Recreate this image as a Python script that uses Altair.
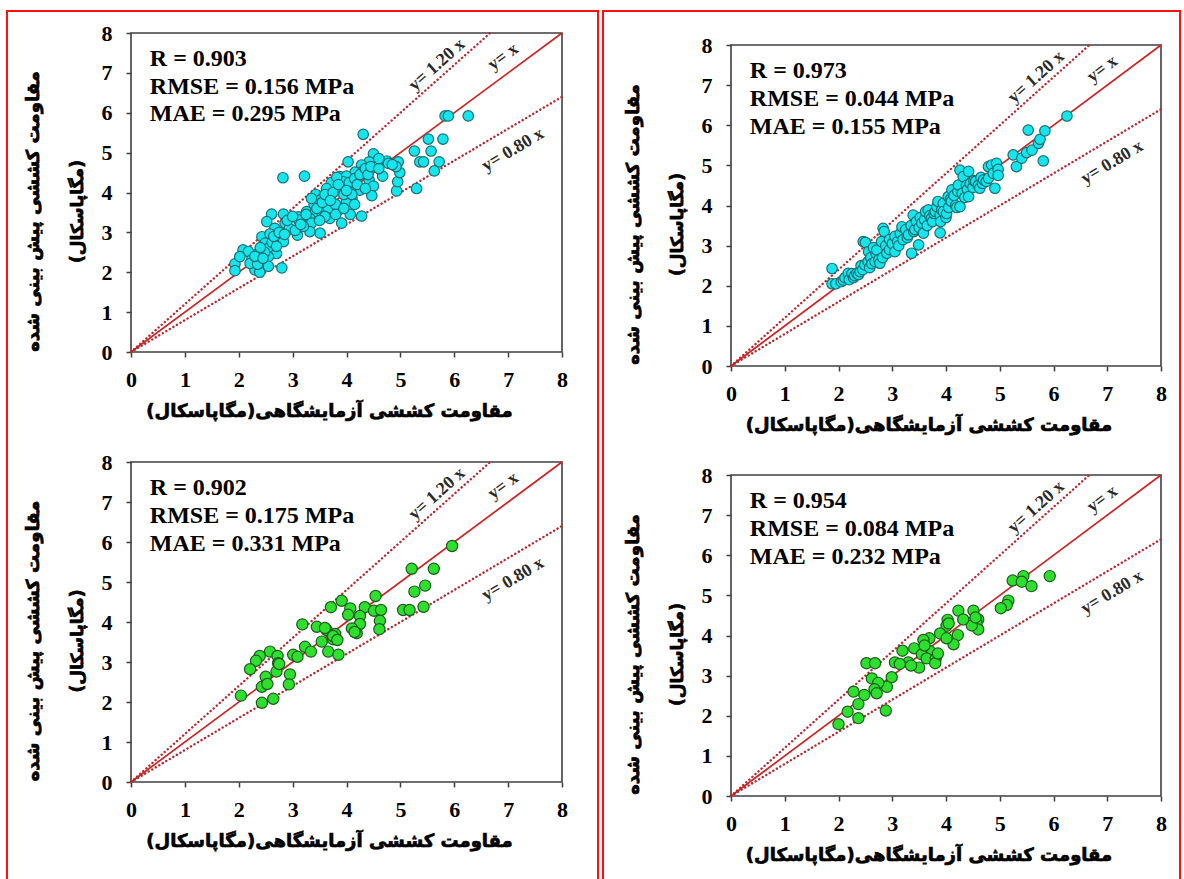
import math
import altair as alt
import pandas as pd

W, H = 1184, 879

# ---------------------------------------------------------------- data
# training set, model A (top left)
tl_x = [5.83, 5.89, 6.26, 4.31, 5.52, 5.79, 5.26, 5.57, 5.36, 5.43, 5.72, 5.63, 5.30, 4.93, 4.95,
        4.99, 4.75, 4.96, 4.78, 4.50, 4.42, 4.03, 4.28, 2.82, 3.22, 4.16, 4.31, 4.67, 4.92, 4.42,
        4.50, 3.88, 4.00, 3.94, 3.72, 3.82, 3.63, 3.90, 4.03, 4.25, 3.43, 3.53, 3.69, 4.47, 4.10,
        4.00, 4.28, 3.91, 4.07, 2.61, 2.83, 3.11, 3.26, 3.42, 3.32, 3.54, 3.69, 3.66, 3.85, 2.52,
        2.86, 3.11, 2.67, 2.94, 3.35, 3.51, 3.09, 3.32, 2.43, 2.58, 2.83, 2.49, 2.08, 2.18, 2.35,
        2.55, 2.70, 1.93, 2.02, 2.24, 2.43, 2.55, 1.93, 2.30, 2.39, 2.80, 2.21, 2.35, 2.48, 2.62,
        2.40, 2.30, 2.65, 2.75, 2.90, 3.00, 3.05, 3.20, 3.25, 3.40, 3.45, 3.55, 3.60, 3.75, 3.80,
        3.85, 3.95, 4.05, 4.15, 4.20, 4.25, 4.35, 4.40, 4.45, 4.60, 3.70, 3.60, 3.80, 3.95, 4.10,
        2.55, 2.45, 2.70, 2.85, 3.15, 3.35, 3.50, 4.00, 4.15, 4.35, 4.60, 4.85]
tl_y = [5.92, 5.92, 5.92, 5.46, 5.34, 5.34, 5.04, 5.04, 4.77, 4.77, 4.77, 4.54, 4.10, 4.04, 4.27,
        4.50, 4.79, 4.77, 4.73, 4.97, 4.77, 4.77, 4.69, 4.37, 4.41, 4.51, 4.54, 4.41, 4.65, 4.31,
        4.16, 4.40, 4.41, 4.27, 4.25, 4.38, 4.10, 4.10, 4.08, 4.06, 3.95, 3.83, 3.90, 3.92, 3.85,
        3.77, 3.41, 3.23, 3.45, 3.46, 3.46, 3.39, 3.52, 3.52, 3.35, 3.52, 3.35, 3.60, 3.56, 3.27,
        3.23, 3.31, 3.10, 3.10, 3.23, 2.98, 2.93, 3.02, 2.89, 2.96, 2.77, 2.73, 2.56, 2.52, 2.46,
        2.60, 2.47, 2.21, 2.39, 2.31, 2.27, 2.39, 2.04, 2.06, 2.00, 2.11, 2.22, 2.20, 2.50, 2.75,
        2.62, 2.40, 2.90, 3.00, 3.30, 3.40, 3.05, 3.15, 3.45, 3.70, 3.60, 3.75, 3.95, 4.00, 3.70,
        4.20, 3.95, 4.25, 4.35, 4.20, 4.45, 4.60, 4.45, 4.65, 4.60, 3.80, 3.40, 3.45, 3.60, 3.95,
        2.15, 2.35, 2.65, 2.95, 3.20, 3.85, 3.30, 4.05, 3.70, 4.10, 4.85, 4.70]

# training set, model B (top right)
tr_x = [1.88, 1.88, 1.95, 2.05, 2.09, 2.12, 2.18, 2.20, 2.25, 2.28, 2.30, 2.34, 2.37, 2.40, 2.42,
        2.45, 2.49, 2.46, 2.50, 2.55, 2.56, 2.58, 2.60, 2.62, 2.65, 2.68, 2.70, 2.71, 2.75, 2.77,
        2.80, 2.82, 2.83, 2.85, 2.88, 2.90, 2.95, 2.95, 3.00, 3.05, 3.05, 3.10, 3.12, 3.15, 3.18,
        3.20, 3.25, 3.28, 3.30, 3.35, 3.36, 3.39, 3.40, 3.42, 3.45, 3.49, 3.50, 3.52, 3.55, 3.58,
        3.60, 3.62, 3.65, 3.67, 3.70, 3.73, 3.75, 3.78, 3.80, 3.83, 3.85, 3.89, 3.89, 3.90, 3.92,
        3.95, 3.95, 4.00, 4.01, 4.04, 4.05, 4.08, 4.10, 4.11, 4.15, 4.18, 4.20, 4.22, 4.23, 4.26,
        4.26, 4.30, 4.32, 4.35, 4.38, 4.40, 4.42, 4.42, 4.45, 4.50, 4.52, 4.55, 4.60, 4.63, 4.65,
        4.68, 4.70, 4.75, 4.79, 4.79, 4.85, 4.88, 4.91, 4.94, 4.97, 4.97, 5.25, 5.31, 5.41, 5.50,
        5.53, 5.60, 5.72, 5.75, 5.81, 5.84, 6.25]
tr_y = [2.43, 2.05, 2.05, 2.10, 2.14, 2.20, 2.31, 2.15, 2.30, 2.20, 2.25, 2.31, 2.28, 2.35, 2.50,
        2.40, 2.52, 3.10, 3.08, 2.60, 2.85, 2.45, 2.70, 2.55, 2.95, 2.60, 2.80, 2.89, 2.65, 2.56,
        3.10, 2.70, 3.43, 3.35, 3.00, 2.81, 2.90, 3.15, 3.05, 3.23, 2.85, 3.10, 3.00, 3.30, 3.47,
        3.15, 3.40, 3.20, 3.27, 3.50, 2.81, 3.76, 3.35, 3.40, 3.60, 3.02, 3.45, 3.70, 3.56, 3.31,
        3.65, 3.85, 3.50, 3.89, 3.75, 3.68, 3.60, 3.80, 3.85, 3.97, 4.10, 3.76, 3.32, 3.60, 3.90,
        4.05, 3.85, 3.70, 3.80, 4.22, 3.95, 4.15, 4.10, 4.39, 4.25, 4.00, 3.95, 4.35, 4.51, 4.88,
        3.97, 4.30, 4.72, 4.20, 4.50, 4.40, 4.85, 4.22, 4.55, 4.45, 4.62, 4.60, 4.50, 4.43, 4.70,
        4.55, 4.64, 4.60, 4.97, 4.68, 5.01, 4.80, 4.43, 5.05, 4.90, 4.75, 5.26, 4.97, 5.18, 5.32,
        5.88, 5.38, 5.55, 5.65, 5.11, 5.86, 6.23]

# test set, model A (bottom left)
bl_x = [5.96, 5.21, 5.62, 5.46, 5.26, 5.43, 5.05, 5.17, 4.54, 4.34, 4.51, 4.64, 4.62, 4.61, 4.07,
        3.91, 3.71, 4.25, 4.25, 4.03, 4.10, 4.19, 3.18, 3.45, 3.63, 3.79, 3.75, 3.54, 3.23, 3.34,
        3.66, 3.85, 3.01, 3.09, 2.58, 2.72, 2.39, 2.32, 2.73, 2.21, 2.70, 2.95, 2.50, 2.43, 2.53,
        2.93, 2.04, 2.64, 2.43, 3.75, 3.60, 4.15, 2.75, 3.83]
bl_y = [5.90, 5.33, 5.33, 4.91, 4.76, 4.38, 4.30, 4.30, 4.65, 4.37, 4.28, 4.30, 4.03, 3.82, 4.34,
        4.53, 4.37, 4.15, 3.95, 4.18, 3.84, 3.72, 3.94, 3.88, 3.80, 3.70, 3.57, 3.51, 3.38, 3.26,
        3.26, 3.18, 3.18, 3.13, 3.26, 3.15, 3.15, 3.03, 2.97, 2.82, 2.76, 2.69, 2.63, 2.38, 2.45,
        2.44, 2.16, 2.08, 1.98, 3.65, 3.85, 3.75, 2.95, 3.55]

# test set, model B (bottom right)
br_x = [5.93, 5.44, 5.24, 5.41, 5.59, 5.16, 5.13, 5.02, 4.51, 4.23, 4.60, 4.57, 4.60, 4.48, 4.32,
        4.03, 4.01, 3.89, 4.22, 4.14, 4.01, 3.69, 3.58, 3.41, 3.70, 3.55, 3.64, 3.81, 3.80, 3.50,
        3.19, 3.05, 3.30, 3.14, 2.52, 2.68, 2.99, 2.90, 2.62, 2.74, 2.67, 2.71, 2.48, 2.28, 2.37,
        2.17, 2.88, 2.37, 2.00, 3.85, 3.60, 4.05, 4.55, 3.35]
br_y = [5.48, 5.48, 5.37, 5.34, 5.23, 4.87, 4.76, 4.68, 4.62, 4.62, 4.40, 4.30, 4.15, 4.25, 4.40,
        4.39, 4.24, 4.05, 4.01, 3.78, 3.93, 3.93, 3.89, 3.68, 3.61, 3.53, 3.43, 3.43, 3.31, 3.20,
        3.62, 3.33, 3.33, 3.29, 3.31, 3.31, 2.96, 2.72, 2.93, 2.82, 2.66, 2.56, 2.52, 2.60, 2.29,
        2.10, 2.13, 1.94, 1.79, 3.55, 3.75, 4.30, 4.45, 3.25]

stats_tl = ["R = 0.903", "RMSE = 0.156 MPa", "MAE = 0.295 MPa"]
stats_tr = ["R = 0.973", "RMSE = 0.044 MPa", "MAE = 0.155 MPa"]
stats_bl = ["R = 0.902", "RMSE = 0.175 MPa", "MAE = 0.331 MPa"]
stats_br = ["R = 0.954", "RMSE = 0.084 MPa", "MAE = 0.232 MPa"]
stats_x = 0.35
stats_y = [7.36, 6.65, 5.96]

ratios = [1.20, 1.00, 0.80]
ratio_labels = ["y= 1.20 x", "y=  x", "y= 0.80 x"]
ratio_label_x = [5.68, 6.91, 7.09]
ratio_label_y = [7.20, 7.40, 5.07]

tick_values = [0, 1, 2, 3, 4, 5, 6, 7, 8]
x_title = "\u200fمقاومت کششی آزمایشگاهی(مگاپاسکال)\u200f"
y_title_1 = "\u200fمقاومت کششی پیش بینی شده\u200f"
y_title_2 = "\u200f(مگاپاسکال)\u200f"

# ---------------------------------------------------------------- style
SERIF = "Liberation Serif"
PERSIAN = "DejaVu Sans"
FRAME = "#3f3f3f"
CYAN, CYAN_EDGE = "#14e6ec", "#1c6e76"
GREEN, GREEN_EDGE = "#2ee02e", "#1d5a1d"
one = pd.DataFrame({"v": [0]})


def heading(text, px, py, size, angle):
    """Persian axis caption, thickened with a thin outline."""
    return alt.Chart(one).mark_text(
        text=text, font=PERSIAN, fontSize=size, fontWeight="bold", color="black",
        stroke="black", strokeWidth=0.7, align="center", baseline="middle", angle=angle
    ).encode(x=alt.value(px), y=alt.value(py))


def panel(xs, ys, stat_lines, box, fill, edge, size):
    x0, x1, yb, yt = box
    xscale = alt.Scale(domain=[0, 8], range=[x0, x1], nice=False)
    yscale = alt.Scale(domain=[0, 8], range=[yb, yt], nice=False)
    common = dict(
        values=tick_values, format="d", domain=False, grid=False, title=None,
        tickSize=5, tickWidth=1.5, tickColor=FRAME,
        labelFont=SERIF, labelFontSize=22, labelFontWeight="bold", labelColor="black",
        labelFlush=False, labelOverlap=False,
    )
    xaxis = alt.Axis(orient="bottom", offset=yb - H, labelPadding=12, **common)
    yaxis = alt.Axis(orient="left", offset=-x0, labelPadding=14, **common)
    X = alt.X("x:Q", scale=xscale, axis=xaxis)
    Y = alt.Y("y:Q", scale=yscale, axis=yaxis)

    frame = alt.Chart(pd.DataFrame({"x": [0], "x2": [8], "y": [0], "y2": [8]})).mark_rect(
        fillOpacity=0, stroke=FRAME, strokeWidth=1.6
    ).encode(x=X, x2=alt.X2("x2"), y=Y, y2=alt.Y2("y2"))

    rows = []
    for k in ratios:
        xe = min(8.0, 8.0 / k)
        rows += [{"k": k, "x": 0.0, "y": 0.0}, {"k": k, "x": xe, "y": k * xe}]
    lines = pd.DataFrame(rows)
    solid = alt.Chart(lines[lines.k == 1.0]).mark_line(
        color="#cc2424", strokeWidth=1.7
    ).encode(x=X, y=Y)
    dotted = alt.Chart(lines[lines.k != 1.0]).mark_line(
        color="#b52a30", strokeWidth=2.4, strokeDash=[0.1, 4], strokeCap="round"
    ).encode(x=X, y=Y, detail="k:N")

    sx = (x1 - x0) / 8.0
    sy = (yb - yt) / 8.0
    angles = [360 - math.degrees(math.atan(k * sy / sx)) for k in ratios]
    lab = pd.DataFrame({"x": ratio_label_x, "y": ratio_label_y, "t": ratio_labels, "a": angles})
    labels = alt.Chart(lab).mark_text(
        font=SERIF, fontSize=18, fontWeight="bold", color="#2a2a2a",
        align="center", baseline="middle"
    ).encode(x=X, y=Y, text="t:N", angle=alt.Angle("a:Q", scale=None))

    pts = alt.Chart(pd.DataFrame({"x": xs, "y": ys})).mark_circle(
        size=size, fill=fill, stroke=edge, strokeWidth=1.2, opacity=1
    ).encode(x=X, y=Y)

    st = pd.DataFrame({"x": [stats_x] * 3, "y": stats_y, "t": stat_lines})
    stats = alt.Chart(st).mark_text(
        font=SERIF, fontSize=24, fontWeight="bold", color="black",
        align="left", baseline="middle"
    ).encode(x=X, y=Y, text="t:N")

    ymid = (yb + yt) / 2 + 19
    captions = [
        heading(x_title, (x0 + x1) / 2 - 17, yb + 60, 18, 0),
        heading(y_title_1, x0 - 97, ymid, 18, 270),
        heading(y_title_2, x0 - 53, ymid, 17, 270),
    ]
    return alt.layer(frame, dotted, solid, labels, pts, stats, *captions)


p_tl = panel(tl_x, tl_y, stats_tl, (131, 562, 352, 33), CYAN, CYAN_EDGE, 110)
p_tr = panel(tr_x, tr_y, stats_tr, (731, 1161, 366, 45), CYAN, CYAN_EDGE, 110)
p_bl = panel(bl_x, bl_y, stats_bl, (131, 562, 782, 462), GREEN, GREEN_EDGE, 125)
p_br = panel(br_x, br_y, stats_br, (731, 1161, 796, 475), GREEN, GREEN_EDGE, 125)

# red outlines around the left and right columns
box_left = alt.Chart(one).mark_rect(fillOpacity=0, stroke="#ff1010", strokeWidth=2).encode(
    x=alt.value(7), x2=alt.value(598), y=alt.value(11), y2=alt.value(900))
box_right = alt.Chart(one).mark_rect(fillOpacity=0, stroke="#ff1010", strokeWidth=2).encode(
    x=alt.value(603), x2=alt.value(1180), y=alt.value(11), y2=alt.value(900))

chart = alt.layer(p_tl, p_tr, p_bl, p_br, box_left, box_right).resolve_scale(
    x="independent", y="independent"
).properties(
    width=W, height=H, padding=0, autosize=alt.AutoSizeParams(type="none"),
    background="white"
).configure_view(stroke=None)

chart.save("out.html", embed_options={"renderer": "svg", "actions": False})
